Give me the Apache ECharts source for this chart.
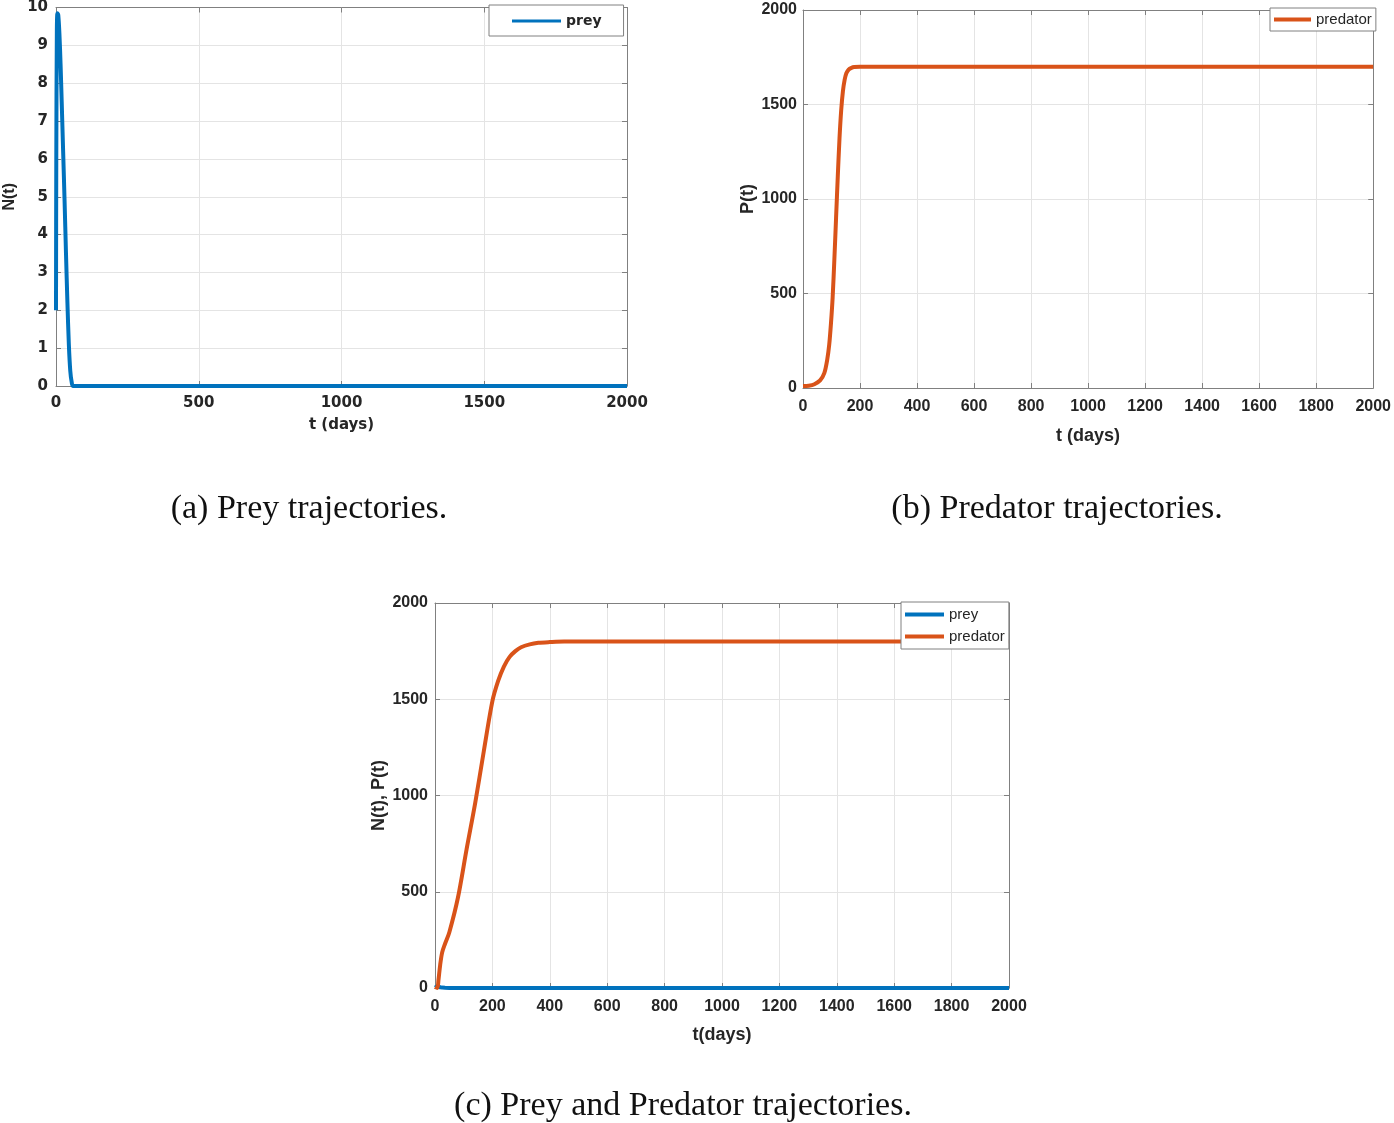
<!DOCTYPE html>
<html>
<head>
<meta charset="utf-8">
<script src="https://cdn.jsdelivr.net/npm/echarts@6/dist/echarts.min.js"></script>
<style>
  html, body { margin: 0; padding: 0; background: #fff; }
  #main { width: 1394px; height: 1123px; }
</style>
</head>
<body>
<div id="main"></div>
<script>
// (a) prey trajectory
var preyT = [0, 1, 3, 5, 8, 12, 16, 20, 25, 30, 35, 40, 45, 50, 55, 60, 2000];
var preyN = [2, 6, 9.4, 9.85, 9.8, 9.3, 8.5, 7.5, 6.2, 4.9, 3.5, 2.2, 1.1, 0.4, 0.1, 0, 0];

// (b) predator trajectory
var predT = [0, 20, 40, 60, 75, 85, 92, 98, 104, 110, 116, 122, 128, 134, 140, 146, 152, 160, 170, 180, 200, 2000];
var predP = [10, 12, 20, 40, 80, 150, 230, 340, 480, 680, 900, 1120, 1320, 1470, 1570, 1630, 1665, 1685, 1694, 1698, 1700, 1700];

// (c) prey and predator together
var bothT = [0, 8, 12, 18, 25, 35, 50, 80, 110, 140, 170, 200, 220, 240, 260, 280, 300, 330, 360, 400, 450, 2000];
var bothPred = [5, 0, 40, 120, 185, 230, 290, 470, 720, 960, 1230, 1490, 1595, 1670, 1720, 1750, 1770, 1785, 1793, 1797, 1800, 1800];
var bothPrey = [2, 9, 7, 4, 2, 1, 0, 0, 0, 0, 0, 0, 0, 0, 0, 0, 0, 0, 0, 0, 0, 0];

var captions = ['(a) Prey trajectories.', '(b) Predator trajectories.', '(c) Prey and Predator trajectories.'];

function pairs(xs, ys) {
  return xs.map(function (x, i) { return [x, ys[i]]; });
}

var BLUE = '#0072BD';
var ORANGE = '#D95319';
var wide = { fontFamily: 'DejaVu Sans', fontWeight: 'bold', fontSize: 15, color: '#262626' };
var narrow = { fontFamily: 'Liberation Sans', fontWeight: 'bold', fontSize: 16, color: '#262626' };
var plain = function (v) { return String(v); };

function mainX(grid, interval, lab, margin, name, gap, nameStyle) {
  return {
    type: 'value', gridIndex: grid, min: 0, max: 2000, interval: interval,
    axisLine: { show: true, onZero: false, lineStyle: { color: '#808080', width: 1 } },
    axisTick: { show: true, inside: true, length: 5, lineStyle: { color: '#808080' } },
    axisLabel: Object.assign({ margin: margin, formatter: plain }, lab),
    splitLine: { show: true, lineStyle: { color: '#e4e4e4', width: 1 } },
    name: name, nameLocation: 'middle', nameGap: gap,
    nameTextStyle: nameStyle
  };
}
function mainY(grid, max, interval, lab, margin, name, gap, nameStyle) {
  return {
    type: 'value', gridIndex: grid, min: 0, max: max, interval: interval,
    axisLine: { show: true, onZero: false, lineStyle: { color: '#808080', width: 1 } },
    axisTick: { show: true, inside: true, length: 5, lineStyle: { color: '#808080' } },
    axisLabel: Object.assign({ margin: margin, formatter: plain }, lab),
    splitLine: { show: true, lineStyle: { color: '#e4e4e4', width: 1 } },
    name: name, nameLocation: 'middle', nameGap: gap, nameRotate: 90,
    nameTextStyle: nameStyle
  };
}
function boxAxis(grid, max, interval, pos) {
  return {
    type: 'value', gridIndex: grid, min: 0, max: max, interval: interval, position: pos,
    axisLine: { show: true, onZero: false, lineStyle: { color: '#808080', width: 1 } },
    axisTick: { show: true, inside: true, length: 5, lineStyle: { color: '#808080' } },
    axisLabel: { show: false }, splitLine: { show: false }
  };
}

var nameA = { fontFamily: 'DejaVu Sans', fontWeight: 'bold', fontSize: 15, color: '#262626' };
var nameB = { fontFamily: 'Liberation Sans', fontWeight: 'bold', fontSize: 18, color: '#262626' };
var legendNarrow = { fontFamily: 'Liberation Sans', fontSize: 15, color: '#262626' };

var chart = echarts.init(document.getElementById('main'), null, { renderer: 'canvas' });

chart.setOption({
  backgroundColor: '#fff',
  animation: false,
  grid: [
    { left: 56, top: 5, width: 571, height: 381 },
    { left: 803, top: 10, width: 574, height: 378 },
    { left: 435, top: 603, width: 574, height: 385 }
  ],
  xAxis: [
    mainX(0, 500, wide, 10, 't (days)', 32, nameA),
    mainX(1, 200, narrow, 11, 't (days)', 39, nameB),
    mainX(2, 200, narrow, 11, 't(days)', 38, nameB),
    boxAxis(0, 2000, 500, 'top'),
    boxAxis(1, 2000, 200, 'top'),
    boxAxis(2, 2000, 200, 'top')
  ],
  yAxis: [
    mainY(0, 10, 1, wide, 8, 'N(t)', 38, { fontFamily: 'Liberation Sans', fontWeight: 'bold', fontSize: 16, color: '#262626' }),
    mainY(1, 2000, 500, narrow, 6, 'P(t)', 40, nameB),
    mainY(2, 2000, 500, narrow, 7, 'N(t), P(t)', 38, nameB),
    boxAxis(0, 10, 1, 'right'),
    boxAxis(1, 2000, 500, 'right'),
    boxAxis(2, 2000, 500, 'right')
  ],
  legend: [
    {
      data: ['prey'], left: 489, top: 5, orient: 'vertical',
      padding: [9, 22, 8, 23], itemWidth: 49, itemHeight: 3, itemGap: 0,
      icon: 'rect', backgroundColor: '#fff', borderColor: '#808080', borderWidth: 1, borderRadius: 0,
      textStyle: { fontFamily: 'DejaVu Sans', fontWeight: 'bold', fontSize: 14, color: '#262626' }
    },
    {
      data: ['predator'], left: 1270, top: 8, orient: 'vertical',
      padding: [4, 4, 4, 4], itemWidth: 37, itemHeight: 4, itemGap: 0,
      icon: 'rect', backgroundColor: '#fff', borderColor: '#808080', borderWidth: 1, borderRadius: 0,
      textStyle: legendNarrow
    },
    {
      data: ['prey', 'predator'], left: 901, top: 602, orient: 'vertical',
      padding: [5, 4, 5, 4], itemWidth: 39, itemHeight: 4, itemGap: 7,
      icon: 'rect', backgroundColor: '#fff', borderColor: '#808080', borderWidth: 1, borderRadius: 0,
      textStyle: legendNarrow
    }
  ],
  series: [
    {
      name: 'prey', type: 'line', xAxisIndex: 0, yAxisIndex: 0, data: pairs(preyT, preyN),
      showSymbol: false, smooth: 0.3, color: BLUE, lineStyle: { color: BLUE, width: 4 }
    },
    {
      name: 'predator', type: 'line', xAxisIndex: 1, yAxisIndex: 1, data: pairs(predT, predP),
      showSymbol: false, smooth: 0.3, color: ORANGE, lineStyle: { color: ORANGE, width: 4 }
    },
    {
      name: 'prey', type: 'line', xAxisIndex: 2, yAxisIndex: 2, data: pairs(bothT, bothPrey),
      showSymbol: false, color: BLUE, lineStyle: { color: BLUE, width: 4 }
    },
    {
      name: 'predator', type: 'line', xAxisIndex: 2, yAxisIndex: 2, data: pairs(bothT, bothPred),
      showSymbol: false, smooth: 0.3, color: ORANGE, lineStyle: { color: ORANGE, width: 4 }
    }
  ],
  graphic: [
    { type: 'text', x: 309, y: 509, style: { text: captions[0], font: '34px "Liberation Serif", serif', fill: '#111', align: 'center', verticalAlign: 'middle' } },
    { type: 'text', x: 1057, y: 509, style: { text: captions[1], font: '34px "Liberation Serif", serif', fill: '#111', align: 'center', verticalAlign: 'middle' } },
    { type: 'text', x: 683, y: 1106, style: { text: captions[2], font: '34px "Liberation Serif", serif', fill: '#111', align: 'center', verticalAlign: 'middle' } }
  ]
});
</script>
</body>
</html>
